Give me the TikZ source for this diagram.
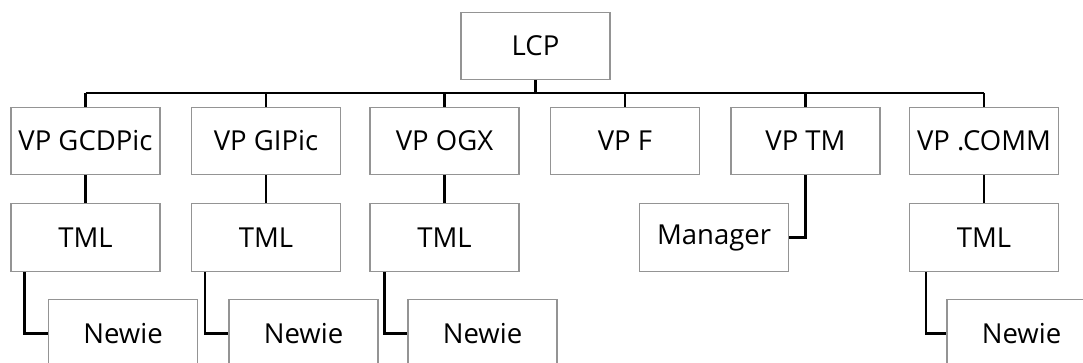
\documentclass[tikz,border=0pt]{standalone}
\usepackage{fontspec}
\setmainfont{Open Sans}
\begin{document}
\begin{tikzpicture}[x=1pt,y=-1pt,
  orgbox/.style={draw=black!42,line width=1.2pt,minimum width=149pt,minimum height=67.5pt,
    inner sep=0pt,font=\fontsize{27.5}{33}\selectfont},
  link/.style={draw=black,line width=2.2pt}]
\useasboundingbox (0,0) rectangle (1083,363);
\clip (0,0) rectangle (1083,363);
% top
\node[orgbox] (lcp) at (535.5,46) {LCP};
% vice presidents
\node[orgbox] (vp1) at (85.5,141) {VP GCDPic};
\node[orgbox] (vp2) at (266,141) {VP GIPic};
\node[orgbox] (vp3) at (444.5,141) {VP OGX};
\node[orgbox] (vp4) at (625,141) {VP F};
\node[orgbox] (vp5) at (805.5,141) {VP TM};
\node[orgbox] (vp6) at (984,141) {VP .COMM};
% second level
\node[orgbox] (t1) at (85.5,237.5) {TML};
\node[orgbox] (t2) at (266,237.5) {TML};
\node[orgbox] (t3) at (444.5,237.5) {TML};
\node[orgbox] (mgr) at (714,237.5) {Manager};
\node[orgbox] (t6) at (984,237.5) {TML};
% third level
\node[orgbox] (n1) at (123,333.5) {Newie};
\node[orgbox] (n2) at (303.5,333.5) {Newie};
\node[orgbox] (n3) at (482.5,333.5) {Newie};
\node[orgbox] (n6) at (1021.5,333.5) {Newie};
% bus
\coordinate (busL) at (85.5,93);
\coordinate (busR) at (984,93);
\draw[link] (busL) -- (busR);
\draw[link] (lcp.south) -- (lcp.south |- busL);
\foreach \v in {vp1,vp2,vp3,vp4,vp5,vp6}
  \draw[link] (\v.north |- busL) -- (\v.north);
% VP to second level
\draw[link] (vp1.south) -- (t1.north);
\draw[link] (vp2.south) -- (t2.north);
\draw[link] (vp3.south) -- (t3.north);
\draw[link] (vp6.south) -- (t6.north);
\draw[link] (vp5.south) |- (mgr.east);
% TML to Newie
\draw[link] ([xshift=14pt]t1.south west) |- (n1.west);
\draw[link] ([xshift=14pt]t2.south west) |- (n2.west);
\draw[link] ([xshift=15pt]t3.south west) |- (n3.west);
\draw[link] ([xshift=17pt]t6.south west) |- (n6.west);
\end{tikzpicture}
\end{document}
